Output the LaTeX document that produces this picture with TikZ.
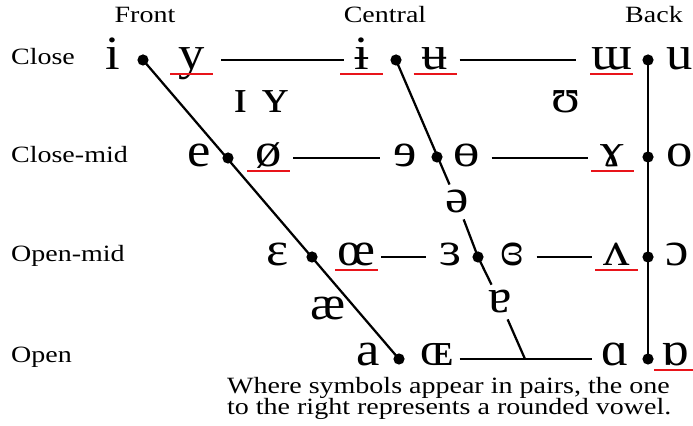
\documentclass[tikz,border=0pt]{standalone}
\usepackage{fontspec}
\setmainfont{Liberation Serif}
\newfontfamily\ipafont[FakeStretch=1.1]{Liberation Serif}
\newfontfamily\lblfont[FakeStretch=1.2]{Liberation Serif}
\usetikzlibrary{calc}
\definecolor{ulred}{HTML}{E8141A}

\begin{document}
\begin{tikzpicture}[
  x=0.025cm, y=-0.025cm,
  line width=1.6pt,
  sym/.style={font=\ipafont\fontsize{34}{34}\selectfont, inner sep=0pt, minimum width=1.075cm, anchor=base},
  midsym/.style={font=\ipafont\fontsize{34}{34}\selectfont, inner sep=0.12cm, anchor=base},
  lbl/.style={font=\lblfont\fontsize{16.6}{16}\selectfont, inner sep=0pt, anchor=base},
  hline/.style={shorten <=1.5pt, shorten >=1.5pt},
  uline/.style={draw=ulred, line width=1.6pt},
]
\useasboundingbox (0,0) rectangle (693,426);

% column and row labels
\node[lbl] (front) at (145,23) {Front};
\node[lbl] (central) at (385,23) {Central};
\node[lbl] (back) at (654,23) {Back};
\node[lbl, anchor=base west] (close) at (10,65) {Close};
\node[lbl, anchor=base west] (closemid) at (10,163) {Close-mid};
\node[lbl, anchor=base west] (openmid) at (10,262) {Open-mid};
\node[lbl, anchor=base west] (open) at (10,363) {Open};

% dots on the trapezium
\coordinate (f1) at (143,60);
\coordinate (f2) at (228,158);
\coordinate (f3) at (312,257);
\coordinate (f4) at (399,359);
\coordinate (c1) at (396,60);
\coordinate (c2) at (437,157);
\coordinate (c3) at (478,257);
\coordinate (c4) at (525,359);
\coordinate (b1) at (648,60);
\coordinate (b2) at (648,157);
\coordinate (b3) at (648,257);
\coordinate (b4) at (648,359);

% close
\node[sym] (i) at (113,70) {i};
\node[sym] (y) at (191.5,70) {y};
\node[sym] (ibar) at (361.5,70) {ɨ};
\node[sym] (ubar) at (435,70) {ʉ};
\node[sym] (turnm) at (611.5,70) {ɯ};
\node[sym] (u) at (680,70) {u};
% near-close
\node[sym] (smallI) at (241,113) {ɪ};
\node[sym] (smallY) at (275,113) {ʏ};
\node[sym] (upsilon) at (566,113) {ʊ};
% close-mid
\node[sym] (e) at (199,167) {e};
\node[sym] (oslash) at (268.5,167) {ø};
\node[sym] (reve) at (405,167) {ɘ};
\node[sym] (barO) at (467,167) {ɵ};
\node[sym] (ramshorn) at (612.5,167) {ɤ};
\node[sym] (o) at (680,167) {o};
% mid
\node[midsym] (schwa) at (457,213) {ə};
% open-mid
\node[sym] (eps) at (278,266) {ɛ};
\node[sym] (oe) at (356.5,266) {œ};
\node[sym] (revEps) at (451,266) {ɜ};
\node[sym] (closedRevEps) at (512,266) {ɞ};
\node[sym] (turnV) at (616.5,266) {ʌ};
\node[sym] (openO) at (677,266) {ɔ};
% near-open
\node[sym] (ae) at (328,320) {æ};
\node[midsym] (turnA) at (500,313) {ɐ};
% open
\node[sym] (a) at (368,366) {a};
\node[sym] (OE) at (437,366) {ɶ};
\node[sym] (alpha) at (615,366) {ɑ};
\node[sym] (turnAlpha) at (675.5,366) {ɒ};

% trapezium lines
\draw (f1) -- (f4);
\draw (c1) -- (schwa) -- (c3) -- (turnA) -- (c4);
\draw (b1) -- (b4);
\draw[hline, shorten <=5pt, shorten >=-3.5pt] (y.east |- f1) -- (ibar.west |- f1);
\draw[hline, shorten >=9pt] (ubar.east |- f1) -- (turnm.west |- f1);
\draw[hline] (oslash.east |- f2) -- (reve.west |- f2);
\draw[hline] (barO.east |- f2) -- (ramshorn.west |- f2);
\draw[hline] (oe.east |- f3) -- (revEps.west |- f3);
\draw[hline] (closedRevEps.east |- f3) -- (turnV.west |- f3);
\draw[shorten <=0pt, shorten >=0pt] (OE.east |- f4) -- (alpha.west |- f4);

\foreach \p in {f1,f2,f3,f4,c1,c2,c3,b1,b2,b3,b4}
  \fill (\p) circle[radius=0.14cm];

% rounded vowels
\foreach \n in {y,ibar,ubar,turnm,oslash,ramshorn,oe,turnV,turnAlpha}
  \draw[uline] ($(\n.base)+(-21.5,4)$) -- ($(\n.base)+(21.5,4)$);

\node[lbl, anchor=base west, align=left, font=\lblfont\fontsize{16.6}{15.6}\selectfont] (note) at (226,415)
  {Where symbols appear in pairs, the one\\to the right represents a rounded vowel.};
\end{tikzpicture}
\end{document}
